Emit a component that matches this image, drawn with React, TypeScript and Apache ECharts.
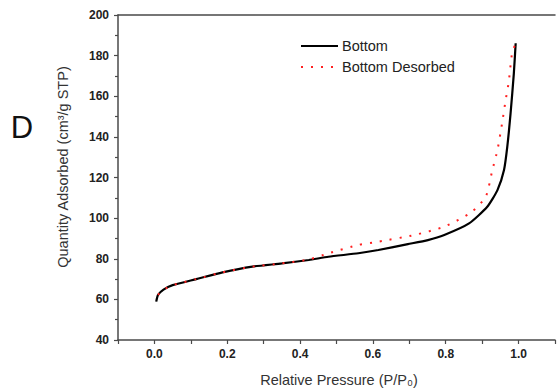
import React, { useEffect, useRef } from "react";
import * as echarts from "echarts";

const adsorptionX = [0.005, 0.01, 0.025, 0.05, 0.115, 0.187, 0.269, 0.35, 0.424, 0.478, 0.56, 0.615, 0.696, 0.751, 0.796, 0.864, 0.914, 0.942, 0.96, 0.969, 0.978, 0.987, 0.992];
const adsorptionY = [58.9, 62.2, 64.8, 67.0, 70.0, 73.3, 76.1, 77.7, 79.4, 81.0, 82.7, 84.3, 87.2, 89.2, 91.7, 97.4, 105.6, 113.8, 123.7, 135.2, 151.6, 171.3, 186.1];

const desorbedX = [0.01, 0.025, 0.05, 0.115, 0.187, 0.269, 0.35, 0.424, 0.478, 0.56, 0.615, 0.714, 0.796, 0.869, 0.91, 0.928, 0.942, 0.955, 0.964, 0.973, 0.982, 0.992];
const desorbedY = [62.2, 64.8, 67.0, 70.0, 73.3, 76.1, 77.7, 79.6, 82.7, 86.8, 88.4, 91.7, 95.8, 102.7, 110.6, 123.7, 133.5, 147.0, 157.6, 167.1, 181.1, 186.1];

const xLabelValues = [0.0, 0.2, 0.4, 0.6, 0.8, 1.0];
const seriesNames = ["Bottom", "Bottom Desorbed"];

export default function App() {
  const ref = useRef<HTMLDivElement>(null);
  useEffect(() => {
    document.body.style.margin = "0";
    if (!ref.current) return;
    const chart = echarts.init(ref.current, null, { renderer: "svg" });
    const font = "Liberation Sans, Arial, sans-serif";
    const axisColor = "#4a4a4a";
    chart.setOption({
      animation: false,
      backgroundColor: "#ffffff",
      textStyle: { fontFamily: font },
      grid: { left: 118, top: 15, right: 0, bottom: 51, containLabel: false },
      xAxis: [
        {
          type: "value",
          min: -0.1,
          max: 1.1,
          interval: 0.1,
          axisLine: { show: true, onZero: false, lineStyle: { color: axisColor, width: 1.5 } },
          axisTick: { show: true, length: 4, lineStyle: { color: axisColor, width: 1.2 } },
          axisLabel: {
            margin: 8,
            fontSize: 12,
            fontWeight: "bold",
            color: "#222",
            fontFamily: font,
            formatter: (v: number) => {
              const k = Math.round(v * 10);
              const match = xLabelValues.find((x) => Math.round(x * 10) === k);
              return match !== undefined ? match.toFixed(1) : "";
            },
          },
          splitLine: { show: false },
        },
        {
          type: "value",
          position: "top",
          min: -0.1,
          max: 1.1,
          axisLine: { show: true, onZero: false, lineStyle: { color: axisColor, width: 1.5 } },
          axisTick: { show: false },
          axisLabel: { show: false },
          splitLine: { show: false },
        },
      ],
      yAxis: {
        type: "value",
        min: 40,
        max: 200,
        interval: 20,
        axisLine: { show: true, onZero: false, lineStyle: { color: axisColor, width: 1.5 } },
        axisTick: { show: true, length: 4, lineStyle: { color: axisColor, width: 1.2 } },
        minorTick: { show: true, splitNumber: 2, length: 3, lineStyle: { color: axisColor, width: 1.2 } },
        axisLabel: { margin: 9, fontSize: 12, fontWeight: "bold", color: "#222", fontFamily: font },
        splitLine: { show: false },
      },
      graphic: [
        {
          type: "text",
          x: 22,
          y: 127,
          style: { text: "D", font: "31px " + font, fill: "#111", align: "center", verticalAlign: "middle" },
        },
        {
          type: "text",
          x: 63,
          y: 167,
          rotation: Math.PI / 2,
          style: {
            text: "Quantity Adsorbed (cm³/g STP)",
            font: "14.5px " + font,
            fill: "#333",
            align: "center",
            verticalAlign: "middle",
          },
        },
        {
          type: "text",
          x: 339,
          y: 380,
          style: {
            text: "Relative Pressure (P/P₀)",
            font: "14.5px " + font,
            fill: "#333",
            align: "center",
            verticalAlign: "middle",
          },
        },
        {
          type: "line",
          shape: { x1: 301, y1: 46, x2: 338, y2: 46 },
          style: { stroke: "#000", lineWidth: 2.2 },
        },
        {
          type: "line",
          shape: { x1: 301, y1: 67, x2: 338, y2: 67 },
          style: { stroke: "#ff2020", lineWidth: 2, lineDash: [2, 8] },
        },
        {
          type: "text",
          x: 342,
          y: 46,
          style: { text: seriesNames[0], font: "14.5px " + font, fill: "#222", align: "left", verticalAlign: "middle" },
        },
        {
          type: "text",
          x: 342,
          y: 67,
          style: { text: seriesNames[1], font: "14.5px " + font, fill: "#222", align: "left", verticalAlign: "middle" },
        },
      ],
      series: [
        {
          name: seriesNames[0],
          type: "line",
          symbol: "none",
          smooth: 0.2,
          data: adsorptionX.map((x, i) => [x, adsorptionY[i]]),
          lineStyle: { color: "#000", width: 2.2 },
          itemStyle: { color: "#000" },
          z: 2,
        },
        {
          name: seriesNames[1],
          type: "line",
          symbol: "none",
          smooth: 0.2,
          data: desorbedX.map((x, i) => [x, desorbedY[i]]),
          lineStyle: { color: "#ff2020", width: 2, type: [2, 8] },
          itemStyle: { color: "#ff2020" },
          z: 3,
        },
      ],
    });
    return () => chart.dispose();
  }, []);
  return <div ref={ref} style={{ width: 558, height: 391 }} />;
}
